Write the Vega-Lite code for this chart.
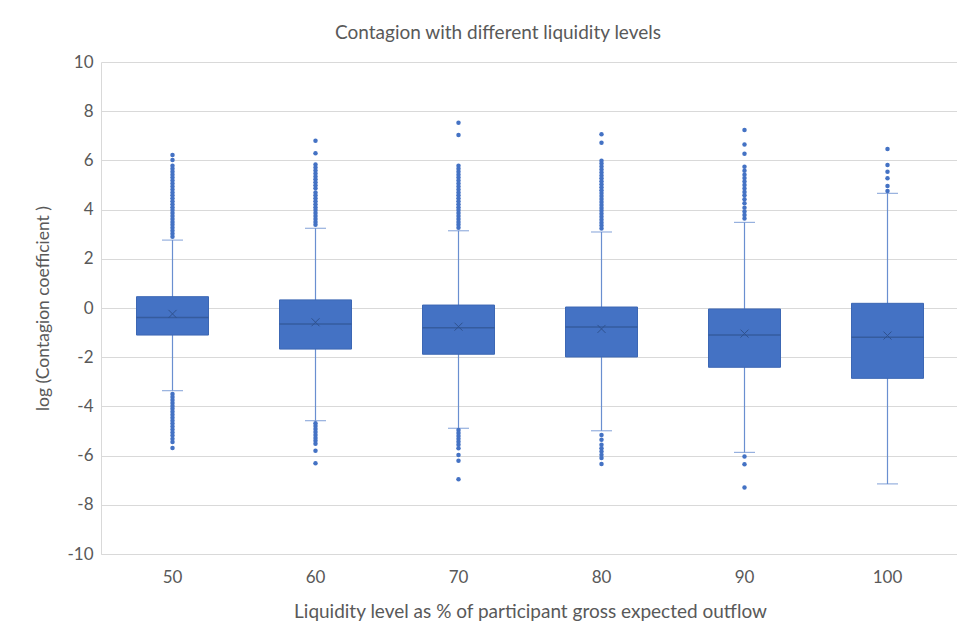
{
  "$schema": "https://vega.github.io/schema/vega-lite/v6.json",
  "width": 858,
  "height": 492,
  "autosize": {"type": "none"},
  "padding": {"left": 101, "top": 62, "right": 0, "bottom": 74},
  "background": "white",
  "config": {
    "font": "Lato",
    "view": {"stroke": null},
    "axis": {"labelFont": "Lato", "titleFont": "Lato", "labelColor": "#595959", "titleColor": "#595959", "labelFontSize": 17, "titleFontSize": 19, "titleFontWeight": "normal"}
  },
  "title": {"text": "Contagion with different liquidity levels", "fontSize": 19, "fontWeight": "normal", "color": "#595959", "font": "Lato", "anchor": "middle", "dx": -32, "offset": 10},
  "datasets": {
    "stats": [
      {"level": "50", "lo": -3.36, "q1": -1.10, "median": -0.39, "mean": -0.24, "q3": 0.46, "hi": 2.76},
      {"level": "60", "lo": -4.58, "q1": -1.67, "median": -0.65, "mean": -0.58, "q3": 0.33, "hi": 3.24},
      {"level": "70", "lo": -4.89, "q1": -1.88, "median": -0.80, "mean": -0.76, "q3": 0.12, "hi": 3.14},
      {"level": "80", "lo": -4.99, "q1": -1.99, "median": -0.77, "mean": -0.85, "q3": 0.04, "hi": 3.09},
      {"level": "90", "lo": -5.87, "q1": -2.41, "median": -1.10, "mean": -1.04, "q3": -0.04, "hi": 3.48},
      {"level": "100", "lo": -7.15, "q1": -2.86, "median": -1.19, "mean": -1.12, "q3": 0.19, "hi": 4.66}
    ],
    "outliers": [
      {"level": "50", "value": 6.22}, {"level": "50", "value": 6.02}, {"level": "50", "value": 5.78}, {"level": "50", "value": 5.66}, {"level": "50", "value": 5.54}, {"level": "50", "value": 5.42}, {"level": "50", "value": 5.30}, {"level": "50", "value": 5.18}, {"level": "50", "value": 5.06}, {"level": "50", "value": 4.94}, {"level": "50", "value": 4.82}, {"level": "50", "value": 4.70}, {"level": "50", "value": 4.58}, {"level": "50", "value": 4.46}, {"level": "50", "value": 4.34}, {"level": "50", "value": 4.22}, {"level": "50", "value": 4.10}, {"level": "50", "value": 3.98}, {"level": "50", "value": 3.86}, {"level": "50", "value": 3.74}, {"level": "50", "value": 3.62}, {"level": "50", "value": 3.50}, {"level": "50", "value": 3.38}, {"level": "50", "value": 3.26}, {"level": "50", "value": 3.14}, {"level": "50", "value": 3.02}, {"level": "50", "value": 2.90},
      {"level": "50", "value": -3.50}, {"level": "50", "value": -3.62}, {"level": "50", "value": -3.74}, {"level": "50", "value": -3.86}, {"level": "50", "value": -3.98}, {"level": "50", "value": -4.10}, {"level": "50", "value": -4.22}, {"level": "50", "value": -4.34}, {"level": "50", "value": -4.46}, {"level": "50", "value": -4.58}, {"level": "50", "value": -4.70}, {"level": "50", "value": -4.82}, {"level": "50", "value": -4.94}, {"level": "50", "value": -5.06}, {"level": "50", "value": -5.18}, {"level": "50", "value": -5.32}, {"level": "50", "value": -5.45}, {"level": "50", "value": -5.69},
      {"level": "60", "value": 6.80}, {"level": "60", "value": 6.29}, {"level": "60", "value": 5.83}, {"level": "60", "value": 5.71}, {"level": "60", "value": 5.59}, {"level": "60", "value": 5.47}, {"level": "60", "value": 5.35}, {"level": "60", "value": 5.23}, {"level": "60", "value": 5.11}, {"level": "60", "value": 4.99}, {"level": "60", "value": 4.87}, {"level": "60", "value": 4.70}, {"level": "60", "value": 4.58}, {"level": "60", "value": 4.46}, {"level": "60", "value": 4.34}, {"level": "60", "value": 4.22}, {"level": "60", "value": 4.10}, {"level": "60", "value": 3.98}, {"level": "60", "value": 3.86}, {"level": "60", "value": 3.74}, {"level": "60", "value": 3.62}, {"level": "60", "value": 3.50}, {"level": "60", "value": 3.38},
      {"level": "60", "value": -4.68}, {"level": "60", "value": -4.80}, {"level": "60", "value": -4.92}, {"level": "60", "value": -5.04}, {"level": "60", "value": -5.16}, {"level": "60", "value": -5.28}, {"level": "60", "value": -5.40}, {"level": "60", "value": -5.52}, {"level": "60", "value": -5.80}, {"level": "60", "value": -6.31},
      {"level": "70", "value": 7.53}, {"level": "70", "value": 7.03}, {"level": "70", "value": 5.78}, {"level": "70", "value": 5.66}, {"level": "70", "value": 5.54}, {"level": "70", "value": 5.42}, {"level": "70", "value": 5.30}, {"level": "70", "value": 5.18}, {"level": "70", "value": 5.06}, {"level": "70", "value": 4.94}, {"level": "70", "value": 4.82}, {"level": "70", "value": 4.70}, {"level": "70", "value": 4.58}, {"level": "70", "value": 4.46}, {"level": "70", "value": 4.34}, {"level": "70", "value": 4.22}, {"level": "70", "value": 4.10}, {"level": "70", "value": 3.98}, {"level": "70", "value": 3.86}, {"level": "70", "value": 3.74}, {"level": "70", "value": 3.62}, {"level": "70", "value": 3.50}, {"level": "70", "value": 3.38}, {"level": "70", "value": 3.26},
      {"level": "70", "value": -4.96}, {"level": "70", "value": -5.08}, {"level": "70", "value": -5.20}, {"level": "70", "value": -5.32}, {"level": "70", "value": -5.44}, {"level": "70", "value": -5.56}, {"level": "70", "value": -5.70}, {"level": "70", "value": -5.98}, {"level": "70", "value": -6.21}, {"level": "70", "value": -6.96},
      {"level": "80", "value": 7.06}, {"level": "80", "value": 6.72}, {"level": "80", "value": 5.99}, {"level": "80", "value": 5.87}, {"level": "80", "value": 5.75}, {"level": "80", "value": 5.63}, {"level": "80", "value": 5.51}, {"level": "80", "value": 5.39}, {"level": "80", "value": 5.27}, {"level": "80", "value": 5.15}, {"level": "80", "value": 5.03}, {"level": "80", "value": 4.91}, {"level": "80", "value": 4.79}, {"level": "80", "value": 4.67}, {"level": "80", "value": 4.55}, {"level": "80", "value": 4.43}, {"level": "80", "value": 4.31}, {"level": "80", "value": 4.19}, {"level": "80", "value": 4.07}, {"level": "80", "value": 3.95}, {"level": "80", "value": 3.83}, {"level": "80", "value": 3.71}, {"level": "80", "value": 3.59}, {"level": "80", "value": 3.47}, {"level": "80", "value": 3.35}, {"level": "80", "value": 3.23},
      {"level": "80", "value": -5.16}, {"level": "80", "value": -5.36}, {"level": "80", "value": -5.56}, {"level": "80", "value": -5.70}, {"level": "80", "value": -5.83}, {"level": "80", "value": -5.97}, {"level": "80", "value": -6.10}, {"level": "80", "value": -6.34},
      {"level": "90", "value": 7.24}, {"level": "90", "value": 6.65}, {"level": "90", "value": 6.27}, {"level": "90", "value": 5.74}, {"level": "90", "value": 5.58}, {"level": "90", "value": 5.42}, {"level": "90", "value": 5.28}, {"level": "90", "value": 5.14}, {"level": "90", "value": 5.00}, {"level": "90", "value": 4.86}, {"level": "90", "value": 4.72}, {"level": "90", "value": 4.58}, {"level": "90", "value": 4.42}, {"level": "90", "value": 4.26}, {"level": "90", "value": 4.08}, {"level": "90", "value": 3.92}, {"level": "90", "value": 3.78}, {"level": "90", "value": 3.64},
      {"level": "90", "value": -6.04}, {"level": "90", "value": -6.35}, {"level": "90", "value": -7.30},
      {"level": "100", "value": 6.46}, {"level": "100", "value": 5.81}, {"level": "100", "value": 5.54}, {"level": "100", "value": 5.27}, {"level": "100", "value": 4.96}, {"level": "100", "value": 4.76}
    ]
  },
  "encoding": {
    "x": {
      "field": "level", "type": "ordinal", "sort": ["50", "60", "70", "80", "90", "100"],
      "scale": {"type": "band", "paddingInner": 0, "paddingOuter": 0},
      "axis": {"title": "Liquidity level as % of participant gross expected outflow", "labelAngle": 0, "ticks": false, "domain": true, "domainColor": "#D9D9D9", "labelPadding": 15, "titlePadding": 17, "grid": false}
    }
  },
  "layer": [
    {
      "data": {"name": "stats"},
      "mark": {"type": "rule", "color": "#6A8FD0", "strokeWidth": 1.2},
      "encoding": {
        "y": {"field": "lo", "type": "quantitative", "scale": {"domain": [-10, 10], "nice": false},
          "axis": {"title": "log (Contagion coefficient )", "titleFontSize": 17.5, "values": [-10, -8, -6, -4, -2, 0, 2, 4, 6, 8, 10], "labelExpr": "'' + datum.value", "grid": true, "gridColor": "#D9D9D9", "ticks": false, "domain": true, "domainColor": "#D9D9D9", "labelPadding": 8, "titlePadding": 14}},
        "y2": {"field": "hi"}
      }
    },
    {
      "data": {"name": "stats"},
      "mark": {"type": "tick", "color": "#6A8FD0", "size": 21, "thickness": 1.2},
      "encoding": {"y": {"field": "hi", "type": "quantitative"}}
    },
    {
      "data": {"name": "stats"},
      "mark": {"type": "tick", "color": "#6A8FD0", "size": 21, "thickness": 1.2},
      "encoding": {"y": {"field": "lo", "type": "quantitative"}}
    },
    {
      "data": {"name": "stats"},
      "mark": {"type": "bar", "size": 72, "fill": "#4472C4", "stroke": "#3C67B4", "strokeWidth": 1},
      "encoding": {"y": {"field": "q1", "type": "quantitative"}, "y2": {"field": "q3"}}
    },
    {
      "data": {"name": "stats"},
      "mark": {"type": "tick", "color": "#2F528F", "size": 72, "thickness": 1.5},
      "encoding": {"y": {"field": "median", "type": "quantitative"}}
    },
    {
      "data": {"name": "stats"},
      "mark": {"type": "point", "shape": "M-1,-1L1,1M-1,1L1,-1", "filled": false, "size": 64, "stroke": "#2F528F", "strokeWidth": 1, "opacity": 1},
      "encoding": {"y": {"field": "mean", "type": "quantitative"}}
    },
    {
      "data": {"name": "outliers"},
      "mark": {"type": "point", "shape": "circle", "filled": true, "size": 20, "color": "#4472C4", "opacity": 1},
      "encoding": {"y": {"field": "value", "type": "quantitative"}}
    }
  ]
}
